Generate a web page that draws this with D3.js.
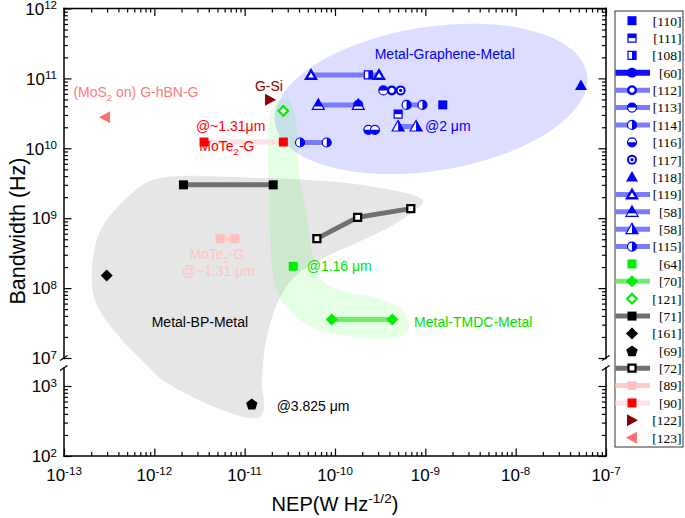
<!DOCTYPE html>
<html>
<head>
<meta charset="utf-8">
<script src="https://cdn.jsdelivr.net/npm/d3@7"></script>
<style>
  body { margin: 0; background: #fff; }
  text { font-family: "Liberation Sans", Arial, sans-serif; }
</style>
</head>
<body>
<div id="chart"></div>
<script>
// ---- data: [NEP (W/Hz^0.5), bandwidth (Hz)] ----
var ref110 = [[1.56e-9, 4.18e10]];
var ref111 = [[5.0e-10, 3.08e10]];
var ref108 = [[2.34e-10, 1.12e11]];
var ref60 = [];
var ref112 = [[4.25e-10, 6.74e10]];
var ref113 = [[1.81e-10, 4.18e10], [3.43e-10, 6.74e10]];
var ref114 = [[6.2e-10, 4.18e10], [9.3e-10, 4.18e10]];
var ref116 = [[2.34e-10, 1.84e10], [2.77e-10, 1.84e10]];
var ref117 = [[5.33e-10, 6.74e10]];
var ref118 = [[5.28e-8, 7.9e10]];
var ref119 = [[5.42e-11, 1.12e11], [3.07e-10, 1.12e11]];
var ref58a = [[6.53e-11, 4.18e10], [1.81e-10, 4.18e10]];
var ref58b = [[5.0e-10, 2.05e10], [7.9e-10, 2.05e10]];
var ref115 = [[4.1e-11, 1.21e10], [8.1e-11, 1.21e10]];
var ref64 = [[3.45e-11, 2.05e8]];
var ref70 = [[9.2e-11, 3.55e7], [4.3e-10, 3.55e7]];
var ref121 = [[2.68e-11, 3.43e10]];
var ref71 = [[2.1e-12, 3.0e9], [2.07e-11, 3.0e9]];
var ref161 = [[2.97e-13, 1.52e8]];
var ref69 = [[1.2e-11, 553]];
var ref72 = [[6.3e-11, 5.1e8], [1.78e-10, 1.03e9], [6.9e-10, 1.37e9]];
var ref89 = [[5.33e-12, 5.1e8], [7.8e-12, 5.1e8]];
var ref90 = [[3.55e-12, 1.23e10], [2.68e-11, 1.23e10]];
var ref122 = [[1.91e-11, 4.93e10]];
var ref123 = [[2.85e-13, 2.79e10]];

var legendKeys = ["110", "111", "108", "60", "112", "113", "114", "116", "117", "118",
  "119", "58a", "58b", "115", "64", "70", "121", "71", "161", "69", "72", "89", "90", "122", "123"];

// regions, as [log10 NEP, log10 bandwidth]
var regionBP = [[-12.011, 9.55], [-10.83, 9.574], [-9.723, 9.479], [-9.095, 9.311], [-9.022, 9.24],
  [-9.133, 9.097], [-9.354, 8.907], [-9.723, 8.669], [-10.166, 8.407], [-10.462, 8.146],
  [-10.645, 7.764], [-10.756, 7.289], [-10.791, 7.0], [-10.80, 3.257], [-10.811, 3.061],
  [-10.794, 2.633], [-10.867, 2.539], [-11.384, 2.729], [-11.937, 3.11], [-12.051, 3.257],
  [-12.162, 7.0], [-12.38, 7.289], [-12.638, 7.764], [-12.693, 8.193], [-12.601, 8.811], [-12.306, 9.289]];
var regionTMDC = [[-10.628, 10.669], [-10.517, 10.717], [-10.443, 10.479], [-10.406, 9.764], [-10.387, 9.526],
  [-10.313, 9.05], [-10.24, 8.436], [-10.129, 8.097], [-9.908, 7.954], [-9.538, 7.86], [-9.28, 7.717],
  [-9.188, 7.526], [-9.206, 7.36], [-9.354, 7.289], [-9.981, 7.336], [-10.313, 7.479], [-10.535, 7.721],
  [-10.645, 7.954], [-10.701, 8.336], [-10.727, 9.293], [-10.738, 9.764], [-10.719, 10.479]];
var grapheneCenter = [-8.937, 10.707];   // log10 values
var grapheneRadii = [1.749, 1.029];      // decades

// annotations: text parts, NEP, bandwidth
var notes = [
  {parts: [["Metal-Graphene-Metal", ""]], v: [1.64e-9, 1.9e11], anchor: "middle", c: "#0000ff"},
  {parts: [["@2 \u03bcm", ""]], v: [9.9e-10, 1.78e10], c: "#0000ff"},
  {parts: [["G-Si", ""]], v: [1.3e-11, 6.7e10], c: "#8b0000"},
  {parts: [["(MoS", ""], ["2", "sub"], [" on) G-hBN-G", ""]], v: [1.27e-13, 5.4e10], c: "#ff7a7a"},
  {parts: [["@~1.31\u03bcm", ""]], v: [2.89e-12, 1.74e10], c: "#ff0000"},
  {parts: [["MoTe", ""], ["2", "sub"], ["-G", ""]], v: [3.15e-12, 9.0e9], c: "#ff0000"},
  {parts: [["MoTe", ""], ["2", "sub"], ["-G", ""]], v: [2.44e-12, 2.64e8], c: "#ffc4c4"},
  {parts: [["@~1.31 \u03bcm", ""]], v: [2.01e-12, 1.48e8], c: "#ffc4c4"},
  {parts: [["@1.16 \u03bcm", ""]], v: [4.86e-11, 1.74e8], c: "#00e000"},
  {parts: [["Metal-BP-Metal", ""]], v: [9.35e-13, 2.8e7], c: "#000"},
  {parts: [["Metal-TMDC-Metal", ""]], v: [7.5e-10, 2.8e7], c: "#00e000"},
  {parts: [["@3.825 \u03bcm", ""]], v: [2.26e-11, 444], c: "#000"}
];

var seriesData = {
  "110": ref110, "111": ref111, "108": ref108, "60": ref60, "112": ref112, "113": ref113,
  "114": ref114, "116": ref116, "117": ref117, "118": ref118, "119": ref119, "58a": ref58a,
  "58b": ref58b, "115": ref115, "64": ref64, "70": ref70, "121": ref121, "71": ref71,
  "161": ref161, "69": ref69, "72": ref72, "89": ref89, "90": ref90, "122": ref122, "123": ref123
};

// ---- styles ----
var blue = "#0000ff", blueLine = "#7b7bff", green = "#00ee00";
var styles = {
  "110": {shape: "sq", c: blue},
  "111": {shape: "sqTop", c: blue},
  "108": {shape: "sqRight", c: blue},
  "60": {shape: "circle", c: blue, line: "#1010ff", lw: 6},
  "112": {shape: "ring", c: blue, line: blueLine},
  "113": {shape: "cTop", c: blue, line: blueLine, noPlotLine: true},
  "114": {shape: "cRight", c: blue, line: blueLine},
  "116": {shape: "cBot", c: blue},
  "117": {shape: "target", c: blue},
  "118": {shape: "tri", c: blue},
  "119": {shape: "triOpen", c: blue, line: blueLine},
  "58a": {shape: "triBot", c: blue, line: blueLine},
  "58b": {shape: "triRight", c: blue, line: blueLine},
  "115": {shape: "cRight", c: blue, line: blueLine},
  "64": {shape: "sq", c: green},
  "70": {shape: "diamond", c: green, line: "#6cf06c"},
  "121": {shape: "diamondOpen", c: green},
  "71": {shape: "sq", c: "#000", line: "#707070"},
  "161": {shape: "diamond", c: "#000"},
  "69": {shape: "pent", c: "#000"},
  "72": {shape: "sqOpen", c: "#000", line: "#707070"},
  "89": {shape: "sq", c: "#ffc0c0", line: "#ffcaca"},
  "90": {shape: "sq", c: "#ff0000", line: "#ffe2e2"},
  "122": {shape: "triR", c: "#8b0000"},
  "123": {shape: "triL", c: "#ff7070"}
};

var svg = d3.select("#chart").append("svg")
  .attr("width", 685)
  .attr("height", 518);

var x = d3.scaleLog().domain([1e-13, 1e-7]).range([64, 606]);
var yTop = d3.scaleLog().domain([1e7, 1e12]).range([358, 8.5]);
var yBot = d3.scaleLog().domain([1e2, 1e3]).range([456, 386]);
var yBotMax = 1807; // top of the lower segment
function yPos(v) { return v > 1e5 ? yTop(v) : yBot(v); }
function pt(e) { return [x(Math.pow(10, e[0])), yPos(Math.pow(10, e[1]))]; }

// ---- regions ----
var cx = x(Math.pow(10, grapheneCenter[0])), cy = yTop(Math.pow(10, grapheneCenter[1]));
var rx = x(Math.pow(10, grapheneCenter[0] + grapheneRadii[0])) - cx;
var ry = cy - yTop(Math.pow(10, grapheneCenter[1] + grapheneRadii[1]));
svg.append("ellipse")
  .attr("cx", cx).attr("cy", cy).attr("rx", rx).attr("ry", ry)
  .attr("transform", "rotate(-9," + cx + "," + cy + ")")
  .attr("fill", "#6464ff").attr("fill-opacity", 0.22);

var area = d3.line().curve(d3.curveCatmullRomClosed.alpha(0.5));
svg.append("path").attr("d", area(regionBP.map(pt)))
  .attr("fill", "#808080").attr("fill-opacity", 0.2);
svg.append("path").attr("d", area(regionTMDC.map(pt)))
  .attr("fill", "#00ff00").attr("fill-opacity", 0.1);

// ---- markers ----
function marker(g, shape, c, px, py) {
  var s = g.append("g").attr("transform", "translate(" + px + "," + py + ")");
  function outline(d) { return s.append("path").attr("d", d).attr("fill", "#fff").attr("stroke", c).attr("stroke-width", 1.2); }
  function fill(d) { return s.append("path").attr("d", d).attr("fill", c); }
  var tri = "M0,-6L6,4.5L-6,4.5Z";
  switch (shape) {
    case "sq": fill("M-4.5,-4.5h9v9h-9Z"); break;
    case "sqTop": outline("M-4,-4h8v8h-8Z"); fill("M-4,-4h8v4h-8Z"); break;
    case "sqRight": outline("M-4,-4h8v8h-8Z"); fill("M0,-4h4v8h-4Z"); break;
    case "sqOpen": s.append("path").attr("d", "M-3.5,-3.5h7v7h-7Z").attr("fill", "#fff")
      .attr("stroke", c).attr("stroke-width", 2.3); break;
    case "circle": s.append("circle").attr("r", 5).attr("fill", c); break;
    case "ring": s.append("circle").attr("r", 3.8).attr("fill", "#fff").attr("stroke", c).attr("stroke-width", 2.4); break;
    case "cTop": outline("M-4.5,0A4.5,4.5 0 1 1 4.5,0A4.5,4.5 0 1 1 -4.5,0Z"); fill("M-4.5,0A4.5,4.5 0 0 1 4.5,0Z"); break;
    case "cBot": outline("M-4.5,0A4.5,4.5 0 1 1 4.5,0A4.5,4.5 0 1 1 -4.5,0Z"); fill("M-4.5,0A4.5,4.5 0 0 0 4.5,0Z"); break;
    case "cRight": outline("M-4.5,0A4.5,4.5 0 1 1 4.5,0A4.5,4.5 0 1 1 -4.5,0Z"); fill("M0,-4.5A4.5,4.5 0 0 1 0,4.5Z"); break;
    case "target":
      s.append("circle").attr("r", 5).attr("fill", c);
      s.append("circle").attr("r", 3).attr("fill", "#fff");
      s.append("circle").attr("r", 1.6).attr("fill", c); break;
    case "tri": fill(tri); break;
    case "triOpen": s.append("path").attr("d", "M0,-4.6L4.9,3.8L-4.9,3.8Z").attr("fill", "#fff")
      .attr("stroke", c).attr("stroke-width", 2.4); break;
    case "triBot": outline(tri); fill("M0,-6L4.3,1.5L-4.3,1.5Z"); break;
    case "triRight": outline(tri); fill("M0,-6L6,4.5L0,4.5Z"); break;
    case "diamond": fill("M0,-6L6,0L0,6L-6,0Z"); break;
    case "diamondOpen": s.append("path").attr("d", "M0,-4.8L4.8,0L0,4.8L-4.8,0Z").attr("fill", "#fff")
      .attr("stroke", c).attr("stroke-width", 2.2); break;
    case "pent":
      var p = d3.range(5).map(function(k) {
        var a = -Math.PI / 2 + k * 2 * Math.PI / 5;
        return [6 * Math.cos(a), 6 * Math.sin(a) + 0.6];
      });
      fill("M" + p.join("L") + "Z"); break;
    case "triR": fill("M-5,-6L6,0L-5,6Z"); break;
    case "triL": fill("M5,-6L-6,0L5,6Z"); break;
  }
}

var line = d3.line().x(function(d) { return x(d[0]); }).y(function(d) { return yPos(d[1]); });
var gLines = svg.append("g"), gPts = svg.append("g");
legendKeys.forEach(function(k) {
  var st = styles[k], data = seriesData[k];
  if (st.line && !st.noPlotLine && data.length > 1) {
    gLines.append("path").datum(data)
      .attr("d", line)
      .attr("fill", "none")
      .attr("stroke", st.line)
      .attr("stroke-width", st.lw || 5);
  }
});
legendKeys.forEach(function(k) {
  var st = styles[k];
  seriesData[k].forEach(function(d) { marker(gPts, st.shape, st.c, x(d[0]), yPos(d[1])); });
});

// ---- annotations ----
function rich(t, parts, size, supRaise) {
  var shift = 0;
  parts.forEach(function(p) {
    var target = p[1] === "sup" ? -(supRaise || 0.4) * size : (p[1] === "sub" ? 0.28 * size : 0);
    var ts = t.append("tspan").text(p[0]).attr("dy", target - shift);
    if (p[1]) ts.attr("font-size", size * 0.68);
    shift = target;
  });
}
notes.forEach(function(n) {
  var t = svg.append("text")
    .attr("x", x(n.v[0])).attr("y", yPos(n.v[1]))
    .attr("font-size", 14)
    .attr("fill", n.c)
    .attr("text-anchor", n.anchor || "start");
  rich(t, n.parts, 14);
});

// ---- axes ----
function isMajor(v) { var l = Math.log10(v); return Math.abs(l - Math.round(l)) < 1e-6; }
var xt = x.ticks(), yTt = yTop.ticks(), yBt = yBot.ticks();
var axG = svg.append("g");
function drawAxis(gen, ticks, tx, ty) {
  [[ticks.filter(function(v) { return !isMajor(v); }), 4], [ticks.filter(isMajor), 7.5]].forEach(function(s) {
    var g = axG.append("g").attr("transform", "translate(" + tx + "," + ty + ")")
      .call(gen().tickValues(s[0]).tickSize(-s[1]).tickFormat(""));
    g.select(".domain").remove();
    g.selectAll("line").attr("stroke-width", 1.2);
  });
}
drawAxis(function() { return d3.axisBottom(x); }, xt, 0, 456);
drawAxis(function() { return d3.axisTop(x); }, xt, 0, 8.5);
drawAxis(function() { return d3.axisLeft(yTop); }, yTt, 64, 0);
drawAxis(function() { return d3.axisRight(yTop); }, yTt, 606, 0);
drawAxis(function() { return d3.axisLeft(yBot); }, yBt, 64, 0);
drawAxis(function() { return d3.axisRight(yBot); }, yBt, 606, 0);

var frame = [
  [[64, 456], [606, 456]], [[64, 8.5], [606, 8.5]],
  [[64, 8.5], [64, 358.5]], [[64, yBot(yBotMax)], [64, 456]],
  [[606, 8.5], [606, 358.5]], [[606, yBot(yBotMax)], [606, 456]]
];
frame.forEach(function(f) {
  axG.append("line").attr("x1", f[0][0]).attr("y1", f[0][1]).attr("x2", f[1][0]).attr("y2", f[1][1])
    .attr("stroke", "#000").attr("stroke-width", 1.5).attr("stroke-linecap", "square");
});
// break marks
[64, 606].forEach(function(bx) {
  [yTop(1e7), yBot(yBotMax)].forEach(function(by) {
    axG.append("line").attr("x1", bx - 4).attr("y1", by + 2.5).attr("x2", bx + 3.5).attr("y2", by - 2.5)
      .attr("stroke", "#000").attr("stroke-width", 1.4);
  });
});

// tick labels
xt.filter(isMajor).forEach(function(v) {
  var t = svg.append("text").attr("x", x(v)).attr("y", 481).attr("font-size", 17).attr("text-anchor", "middle");
  rich(t, [["10", ""], [String(Math.round(Math.log10(v))), "sup"]], 17, 0.38);
});
yTt.filter(isMajor).concat(yBt.filter(isMajor)).forEach(function(v) {
  var t = svg.append("text").attr("x", 57).attr("y", yPos(v) + 6.2).attr("font-size", 17).attr("text-anchor", "end");
  rich(t, [["10", ""], [String(Math.round(Math.log10(v))), "sup"]], 17, 0.32);
});

// axis titles
var xtitle = svg.append("text").attr("x", 335).attr("y", 511).attr("font-size", 20).attr("text-anchor", "middle");
rich(xtitle, [["NEP(W Hz", ""], ["-1/2", "sup"], [")", ""]], 20);
svg.append("text").attr("transform", "translate(25,231) rotate(-90)")
  .attr("font-size", 21.5).attr("text-anchor", "middle").text("Bandwidth (Hz)");

// ---- legend ----
var lg = svg.append("g");
lg.append("rect").attr("x", 615).attr("y", 11).attr("width", 68).attr("height", 436)
  .attr("fill", "#fff").attr("stroke", "#333").attr("stroke-width", 1);
legendKeys.forEach(function(k, i) {
  var st = styles[k], ly = 20.7 + i * 17.375;
  if (st.line) {
    lg.append("line").attr("x1", 615.5).attr("x2", 650).attr("y1", ly).attr("y2", ly)
      .attr("stroke", st.line).attr("stroke-width", st.lw || 5);
  }
  marker(lg, st.shape, st.c, 632, ly);
  lg.append("text").attr("x", 681.5).attr("y", ly + 4.8)
    .attr("text-anchor", "end").attr("font-size", 13.5)
    .style("font-family", "'Liberation Serif', 'Times New Roman', serif")
    .text("[" + k.replace(/[ab]$/, "") + "]");
});
</script>
</body>
</html>
